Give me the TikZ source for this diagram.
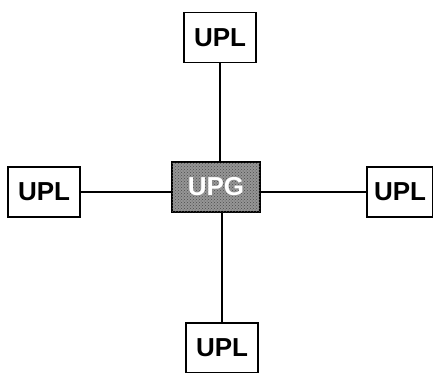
\documentclass[tikz,border=0pt]{standalone}
\usepackage{fontspec}
\setmainfont{Liberation Sans}
\usepackage{tikz}
\usetikzlibrary{positioning, patterns}
\definecolor{upggray}{RGB}{150, 150, 150}
\tikzset{
    uplnode/.style={rectangle, draw=black, line width=1.6pt, fill=white, minimum width=72pt, minimum height=50pt, inner sep=0pt, font=\fontsize{26}{28}\selectfont\bfseries},
    upgnode/.style={uplnode, line width=2.8pt, fill=upggray, minimum width=88pt, text=white,
        postaction={pattern=crosshatch dots, pattern color=black!70}},
    link/.style={line width=1.3pt, black}
}
\begin{document}
\begin{tikzpicture}[x=1pt, y=-1pt]
    \useasboundingbox (0,0) rectangle (433,372);
    % central station
    \node[upgnode] (upg) at (216,187) {UPG};
    % outer stations
    \node[uplnode] (top) at (220,37.5) {UPL};
    \node[uplnode] (bottom) at (222,348) {UPL};
    \node[uplnode] (left) at (44,192) {UPL};
    \node[uplnode, minimum width=66pt] (right) at (400,192) {UPL};

    \draw[link] (top) -- (top |- upg.north);
    \draw[link] (bottom) -- (bottom |- upg.south);
    \draw[link] (left) -- (left -| upg.west);
    \draw[link] (right) -- (right -| upg.east);
\end{tikzpicture}
\end{document}
